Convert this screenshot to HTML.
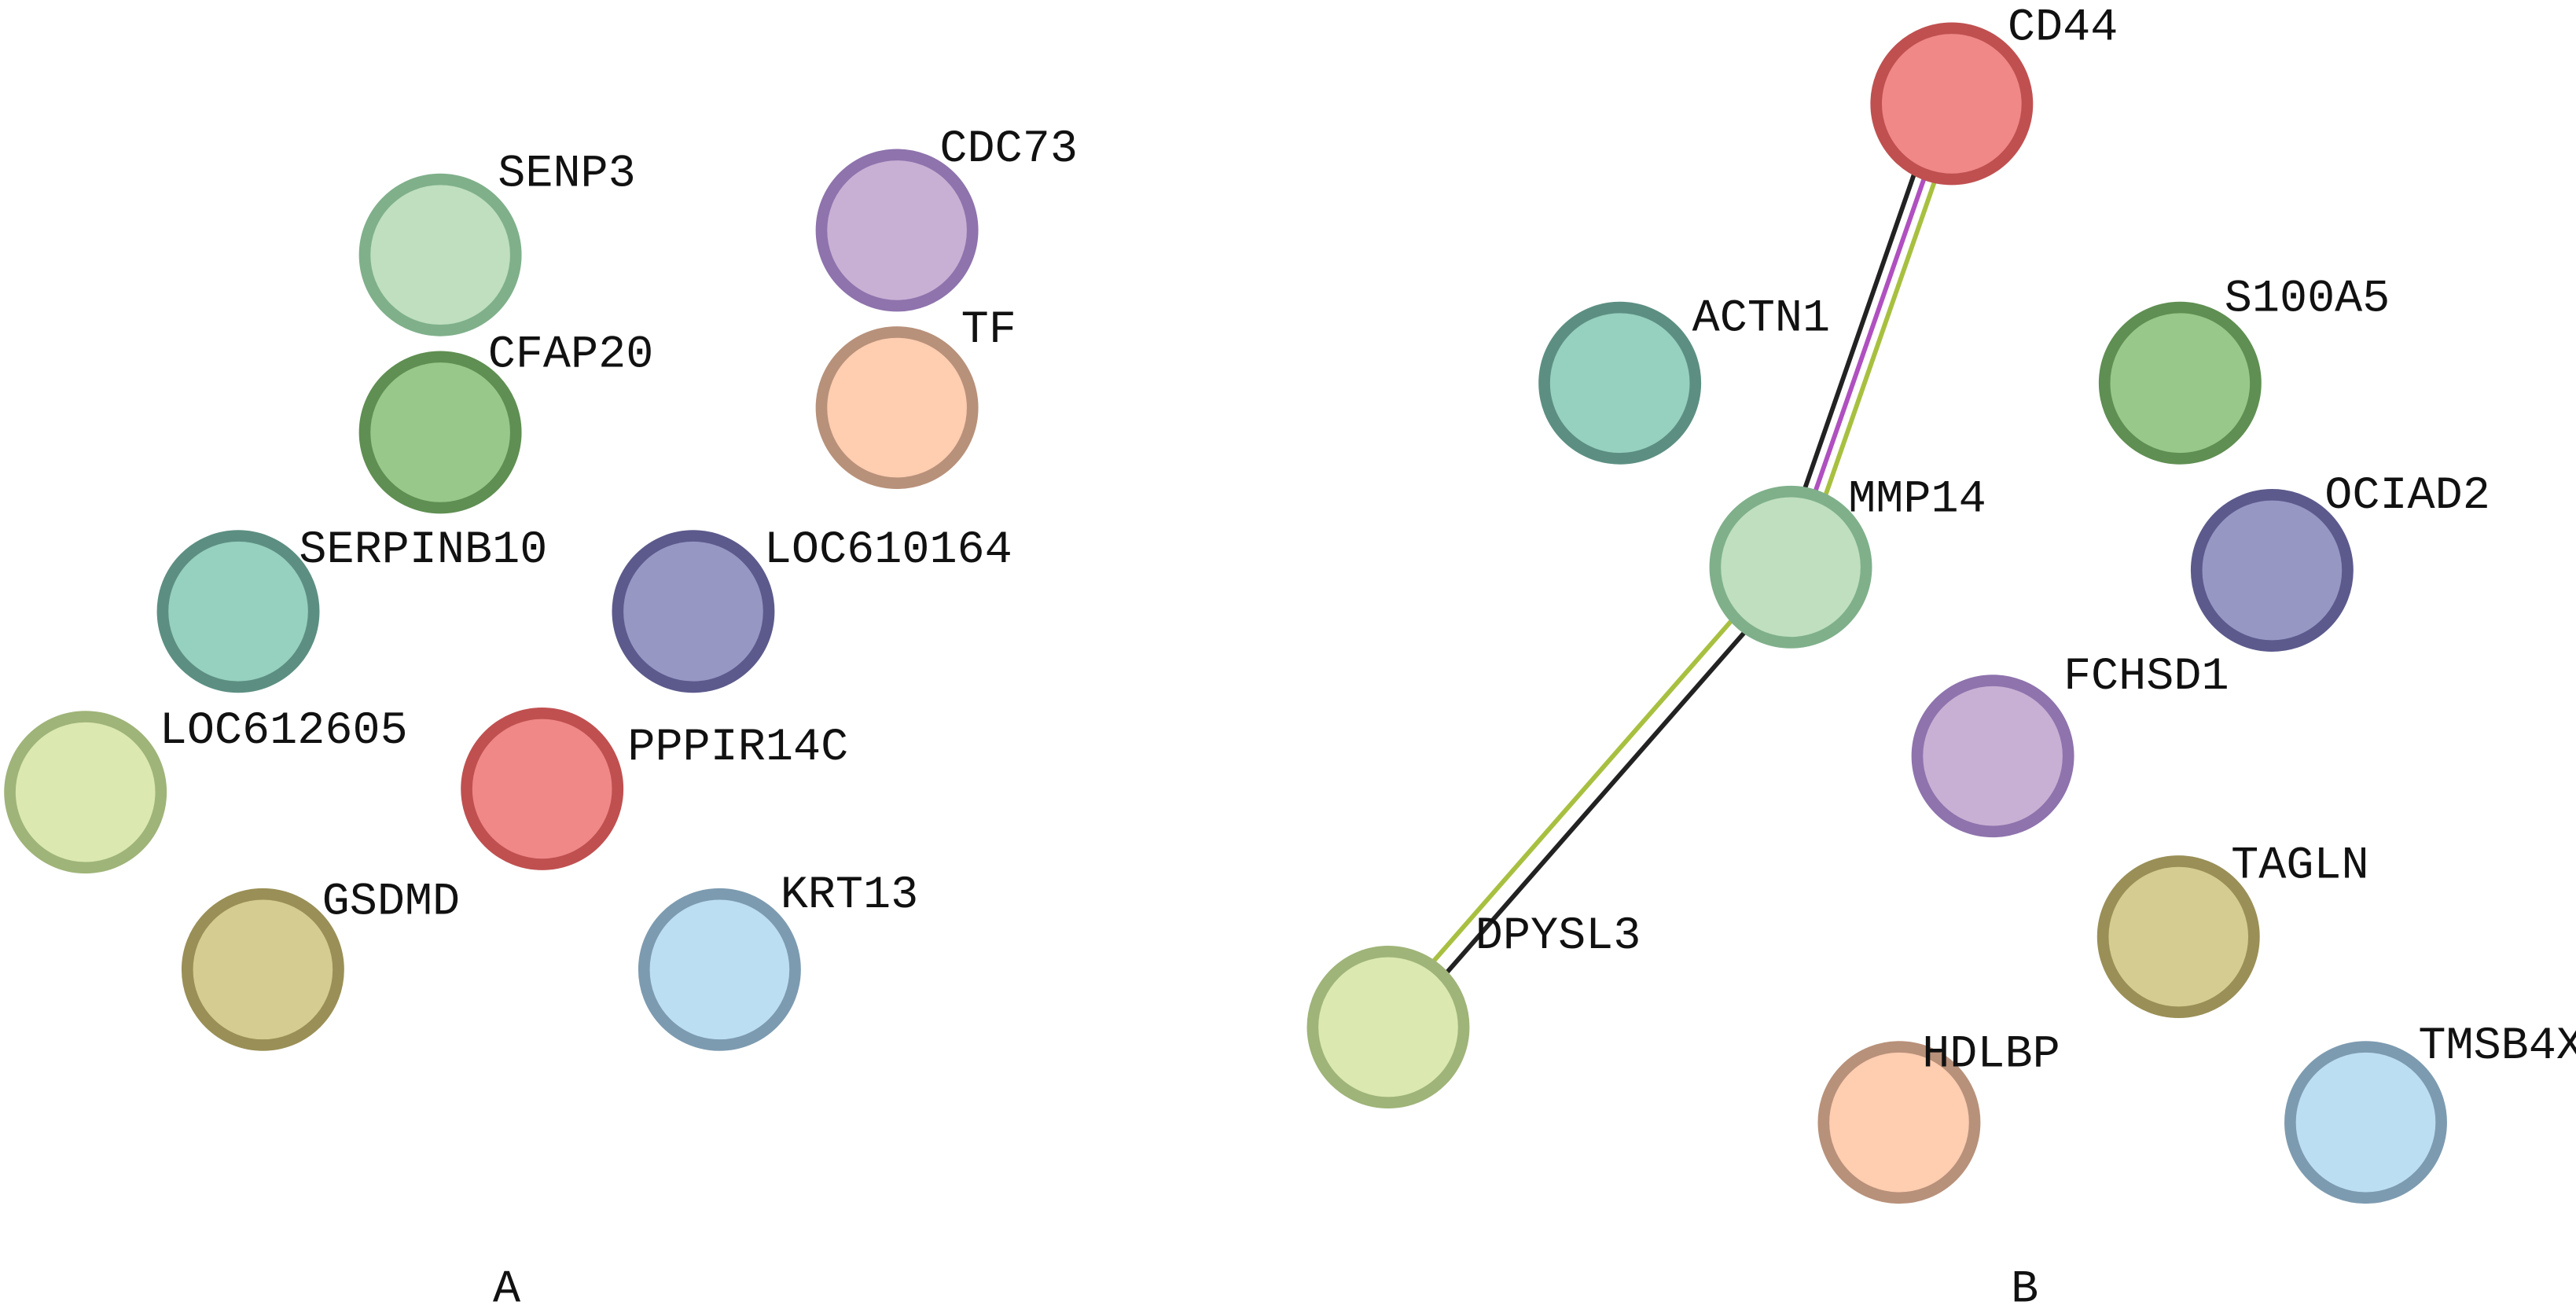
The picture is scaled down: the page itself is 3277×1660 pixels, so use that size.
<!DOCTYPE html>
<html><head><meta charset="utf-8"><style>
html,body{margin:0;padding:0;background:#fff;width:3277px;height:1660px;overflow:hidden}
svg{display:block}
text{font-family:"Liberation Mono","DejaVu Sans Mono",monospace;font-size:28px;fill:#111}
</style></head><body>
<svg width="3277" height="1660" viewBox="0 0 1568 794" xmlns="http://www.w3.org/2000/svg">
<rect width="1568" height="794" fill="#fff"/>
<g stroke-width="2.8" fill="none">
<line x1="1180" y1="63" x2="1082" y2="345" stroke="#222"/>
<line x1="1187" y1="63" x2="1089" y2="345" stroke="#b050c0"/>
<line x1="1194" y1="63" x2="1096" y2="345" stroke="#a8c040"/>
<line x1="1086" y1="341" x2="841" y2="621" stroke="#a8c040"/>
<line x1="1094" y1="348" x2="849" y2="628" stroke="#222"/>
</g>
<g stroke-width="7">
<circle cx="268" cy="155" r="46" fill="#bfdfbf" stroke="#7fb08a"/>
<circle cx="546" cy="140" r="46" fill="#c8b0d4" stroke="#8e73ad"/>
<circle cx="268" cy="263" r="46" fill="#98c98a" stroke="#5f8f52"/>
<circle cx="546" cy="248" r="46" fill="#ffcdb0" stroke="#b8917a"/>
<circle cx="145" cy="372" r="46" fill="#96d0be" stroke="#5c8f82"/>
<circle cx="422" cy="372" r="46" fill="#9797c4" stroke="#5c5a8c"/>
<circle cx="52" cy="482" r="46" fill="#dbe8b0" stroke="#9fb478"/>
<circle cx="330" cy="480" r="46" fill="#f08888" stroke="#c05050"/>
<circle cx="160" cy="590" r="46" fill="#d4cc90" stroke="#9a8f56"/>
<circle cx="438" cy="590" r="46" fill="#bcdef3" stroke="#7d9bb0"/>

<circle cx="1188" cy="63" r="46" fill="#f08888" stroke="#c05050"/>
<circle cx="986" cy="233" r="46" fill="#96d0be" stroke="#5c8f82"/>
<circle cx="1327" cy="233" r="46" fill="#98c98a" stroke="#5f8f52"/>
<circle cx="1090" cy="345" r="46" fill="#bfdfbf" stroke="#7fb08a"/>
<circle cx="1383" cy="347" r="46" fill="#9797c4" stroke="#5c5a8c"/>
<circle cx="1213" cy="460" r="46" fill="#c8b0d4" stroke="#8e73ad"/>
<circle cx="1326" cy="570" r="46" fill="#d4cc90" stroke="#9a8f56"/>
<circle cx="845" cy="625" r="46" fill="#dbe8b0" stroke="#9fb478"/>
<circle cx="1156" cy="683" r="46" fill="#ffcdb0" stroke="#b8917a"/>
<circle cx="1440" cy="683" r="46" fill="#bcdef3" stroke="#7d9bb0"/>
</g>
<text x="303" y="113">SENP3</text>
<text x="572" y="98">CDC73</text>
<text x="297" y="223">CFAP20</text>
<text x="585" y="208">TF</text>
<text x="182" y="342">SERPINB10</text>
<text x="465" y="342">LOC610164</text>
<text x="97" y="452">LOC612605</text>
<text x="382" y="462">PPPIR14C</text>
<text x="196" y="556">GSDMD</text>
<text x="475" y="552">KRT13</text>
<text x="300" y="792">A</text>

<text x="1222" y="24">CD44</text>
<text x="1030" y="201">ACTN1</text>
<text x="1354" y="189">S100A5</text>
<text x="1125" y="311">MMP14</text>
<text x="1415" y="309">OCIAD2</text>
<text x="1256" y="419">FCHSD1</text>
<text x="1358" y="534">TAGLN</text>
<text x="898" y="577">DPYSL3</text>
<text x="1170" y="649">HDLBP</text>
<text x="1472" y="644">TMSB4X</text>
<text x="1224" y="792">B</text>
</svg>
</body></html>
